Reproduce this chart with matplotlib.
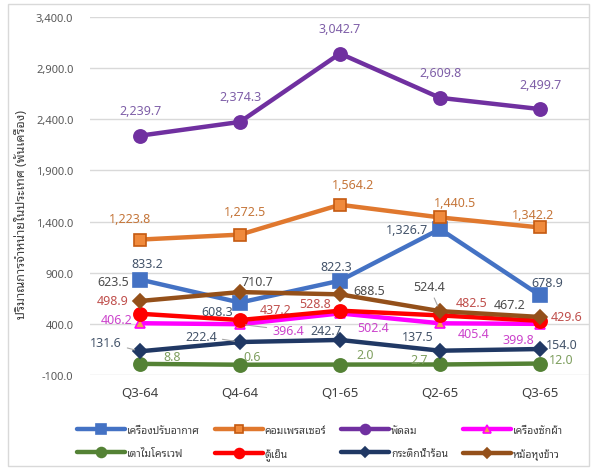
import matplotlib
matplotlib.use("Agg")
import matplotlib.pyplot as plt
from matplotlib.patches import Rectangle
from matplotlib.ticker import FuncFormatter

plt.rcParams["font.family"] = ["Noto Sans", "Noto Sans Thai Looped"]

quarters = ["Q3-64", "Q4-64", "Q1-65", "Q2-65", "Q3-65"]

aircon = [833.2, 608.3, 822.3, 1326.7, 678.9]
compressor = [1223.8, 1272.5, 1564.2, 1440.5, 1342.2]
fan = [2239.7, 2374.3, 3042.7, 2609.8, 2499.7]
washer = [406.2, 396.4, 502.4, 405.4, 399.8]
microwave = [8.8, 0.6, 2.0, 2.7, 12.0]
fridge = [498.9, 437.2, 528.8, 482.5, 429.6]
kettle = [131.6, 222.4, 242.7, 137.5, 154.0]
ricecooker = [623.5, 710.7, 688.5, 524.4, 467.2]

names = ["เครื่องปรับอากาศ", "คอมเพรสเซอร์", "พัดลม", "เครื่องซักผ้า",
         "เตาไมโครเวฟ", "ตู้เย็น", "กระติกน้ำร้อน", "หม้อหุงข้าว"]

# label offsets in pixels (dx, dy), one per point; leader lines flagged
SERIES = [
    # values, line colour, marker, marker size, face, edge, label colour, offsets
    (aircon, "#4472C4", "s", 9.5, "#4472C4", "#4472C4", "#44546A",
     [(7, 16), (-23, -9), (-4, 14), (-33, 0), (7, 13)]),
    (compressor, "#E0782E", "s", 8, "#F08A3C", "#C55A11", "#C5763A",
     [(-10, 21), (5, 23), (13, 20), (15, 15), (-7, 13)]),
    (fan, "#7030A0", "o", 9.5, "#7030A0", "#7030A0", "#7F5FA8",
     [(0, 25), (0, 25), (0, 25), (0, 25), (0, 25)]),
    (washer, "#FF00FF", "^", 7, "#F5A04A", "#FF00FF", "#CC44CC",
     [(-23, 4), (48, -6), (33, -14), (34, -10), (-22, -16)]),
    (microwave, "#548235", "o", 9.5, "#548235", "#548235", "#7F9F5F",
     [(32, 7), (12, 8), (25, 10), (-21, 5), (21, 4)]),
    (fridge, "#FF0000", "o", 9.5, "#FF0000", "#FF0000", "#C0504D",
     [(-27, 13), (36, 11), (-25, 7), (32, 13), (27, 4)]),
    (kettle, "#203864", "D", 7, "#203864", "#203864", "#44546A",
     [(-34, 9), (-39, 6), (-14, 9), (-22, 14), (22, 5)]),
    (ricecooker, "#94501A", "D", 7, "#94501A", "#94501A", "#4D4D4D",
     [(-27, 19), (17, 11), (29, 4), (-11, 25), (-30, 12)]),
]
LEADERS = {(6, 0), (6, 1), (7, 3), (3, 1)}

fig = plt.figure(figsize=(6, 4.77), dpi=100)
fig.patches.append(Rectangle((8 / 600, 1 - 467 / 477), 581 / 600, 462 / 477,
                             transform=fig.transFigure, fill=False,
                             edgecolor="#D9D9D9", lw=1))
ax = fig.add_axes([90 / 600, 1 - 376 / 477, 500 / 600, 358 / 477])

x = list(range(len(quarters)))
handles = []
for si, (vals, lc, mk, ms, fc, ec, tc, offs) in enumerate(SERIES):
    h, = ax.plot(x, vals, color=lc, lw=3.2, marker=mk, ms=ms, mfc=fc, mec=ec,
                 mew=1.2, solid_capstyle="round", zorder=2 + si, label=names[si])
    handles.append(h)
    for i, (v, (dx, dy)) in enumerate(zip(vals, offs)):
        kw = {}
        if (si, i) in LEADERS:
            kw["arrowprops"] = dict(arrowstyle="-", color="#A6A6A6", lw=0.8,
                                    shrinkA=2, shrinkB=4)
        ax.annotate(f"{v:,.1f}", (i, v), xytext=(dx, dy), textcoords="offset pixels",
                    ha="center", va="center", fontsize=9, color=tc, zorder=20, **kw)

ax.set_xlim(-0.5, 4.5)
ax.set_ylim(-100, 3400)
ax.set_yticks(range(-100, 3401, 500))
ax.yaxis.set_major_formatter(FuncFormatter(lambda v, p: f"{v:,.1f}"))
ax.set_xticks(x)
ax.set_xticklabels(quarters, fontsize=9.5, color="#404040")
ax.tick_params(axis="y", labelsize=8, colors="#595959", length=0, pad=12)
ax.tick_params(axis="x", length=0, pad=8)
ax.grid(axis="y", color="#D9D9D9", lw=1)
ax.set_axisbelow(True)
for s in ax.spines.values():
    s.set_visible(False)

fig.text(22 / 600, 1 - 215 / 477, "ปริมาณการจำหน่ายในประเทศ (พันเครื่อง)", rotation=90,
         ha="center", va="center", fontsize=9, color="#404040")

# legend fills column-wise, so interleave the two rows
order = [0, 4, 1, 5, 2, 6, 3, 7]
fig.legend([handles[k] for k in order], [names[k] for k in order], ncol=4,
           loc="center left", bbox_to_anchor=(68 / 600, 1 - 444 / 477),
           frameon=False, fontsize=7.5, handlelength=4.6, handletextpad=0.2,
           columnspacing=1.4, labelspacing=1.15, labelcolor="#404040",
           markerscale=0.75)

fig.savefig("out.png", dpi=100)
